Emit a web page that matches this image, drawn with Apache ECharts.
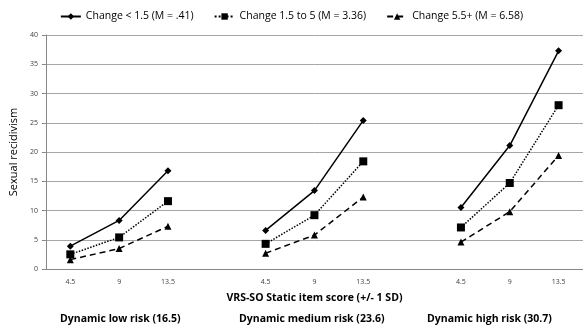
<!DOCTYPE html>
<html><head><meta charset="utf-8">
<script src="https://cdn.jsdelivr.net/npm/echarts@6/dist/echarts.min.js"></script>
<style>html,body{margin:0;padding:0;background:#fff}#c{width:583px;height:326px}</style>
</head><body><div id="c"></div>
<script>
var categories = ['4.5','9','13.5','','4.5','9','13.5','','4.5','9','13.5'];
var seriesNames = ['Change < 1.5 (M = .41)','Change 1.5 to 5 (M = 3.36)','Change 5.5+ (M = 6.58)'];
var changeLow = [3.9, 8.3, 16.8, null, 6.6, 13.4, 25.4, null, 10.5, 21.1, 37.3];
var changeMid = [2.5, 5.4, 11.6, null, 4.3, 9.2, 18.4, null, 7.1, 14.7, 28.0];
var changeHigh = [1.6, 3.5, 7.3, null, 2.7, 5.8, 12.3, null, 4.6, 9.8, 19.4];
var yTicks = [0,5,10,15,20,25,30,35,40];
var groupLabels = ['Dynamic low risk (16.5)','Dynamic medium risk (23.6)','Dynamic high risk (30.7)'];
var xTitle = 'VRS-SO Static item score (+/- 1 SD)';
var yTitle = 'Sexual recidivism';

var font = 'Open Sans';
var chart = echarts.init(document.getElementById('c'), null, {renderer:'canvas'});
function mk(name, data, symbol, size, type){
  return {name:name, type:'line', data:data, symbol:symbol, symbolSize:size,
    connectNulls:false, animation:false,
    lineStyle:{color:'#000', width:1.5, type:type},
    itemStyle:{color:'#000'}};
}
chart.setOption({
  animation:false,
  textStyle:{fontFamily:font},
  legend:{top:6, left:'center', itemWidth:20, itemHeight:8, itemGap:20,
    textStyle:{fontFamily:font, fontSize:10.5, color:'#000'},
    data:seriesNames},
  grid:{left:42, right:-3, top:35, bottom:57},
  xAxis:{type:'category', data:categories, boundaryGap:true,
    name:xTitle, nameLocation:'middle', nameGap:24,
    nameTextStyle:{fontFamily:font, fontSize:10.5, fontWeight:'bold', color:'#000'},
    axisLine:{lineStyle:{color:'#868686'}},
    axisTick:{interval:0, length:3, lineStyle:{color:'#868686'}},
    axisLabel:{interval:0, fontSize:7, color:'#404040', margin:9}},
  yAxis:{type:'value', min:yTicks[0], max:yTicks[yTicks.length-1], interval:5,
    name:yTitle, nameLocation:'middle', nameGap:21,
    nameTextStyle:{fontFamily:font, fontSize:11, color:'#000'},
    axisLine:{show:true, lineStyle:{color:'#868686'}},
    axisTick:{show:true, length:4, lineStyle:{color:'#868686'}},
    axisLabel:{fontSize:7, color:'#404040', margin:8},
    splitLine:{lineStyle:{color:'#a6a6a6', width:1}}},
  graphic:[
    {type:'text', left:60, top:314, style:{text:groupLabels[0], font:'bold 10.5px "Open Sans"', fill:'#000'}},
    {type:'text', left:239, top:314, style:{text:groupLabels[1], font:'bold 10.5px "Open Sans"', fill:'#000'}},
    {type:'text', left:427, top:314, style:{text:groupLabels[2], font:'bold 10.5px "Open Sans"', fill:'#000'}}
  ],
  series:[
    mk(seriesNames[0], changeLow, 'diamond', 7, 'solid'),
    mk(seriesNames[1], changeMid, 'rect', 8, 'dotted'),
    mk(seriesNames[2], changeHigh, 'triangle', 7, [6,4])
  ]
});
</script></body></html>
